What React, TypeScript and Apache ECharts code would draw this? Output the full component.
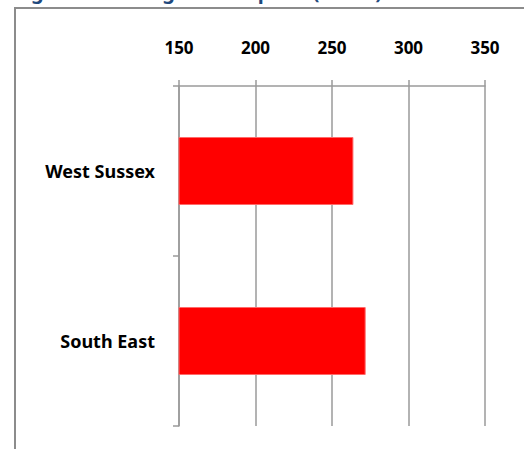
import React, { useEffect, useRef } from "react";
import * as echarts from "echarts";

const categories = ["West Sussex", "South East"];
const values = [264, 272];
const tickMin = 150;
const tickMax = 350;
const tickStep = 50;
const titleText = "Figure 1: Average house price (£000s)";

const FONT = "'Noto Sans', 'DejaVu Sans', sans-serif";

export default function App() {
  const ref = useRef<HTMLDivElement>(null);

  useEffect(() => {
    document.body.style.margin = "0";
    const chart = echarts.init(ref.current!, null, { renderer: "svg" });
    chart.setOption({
      animation: false,
      backgroundColor: "#ffffff",
      graphic: [
        {
          type: "text",
          left: 14,
          top: -19,
          style: {
            text: titleText,
            font: `bold 20px ${FONT}`,
            fill: "#1F497D",
          },
        },
        {
          type: "rect",
          shape: { x: 15, y: 8, width: 600, height: 500 },
          style: { fill: "none", stroke: "#8c8c8c", lineWidth: 2 },
          silent: true,
        },
      ],
      grid: { left: 179, right: 39, top: 86, bottom: 23 },
      xAxis: {
        type: "value",
        position: "top",
        min: tickMin,
        max: tickMax,
        interval: tickStep,
        axisLine: { show: true, lineStyle: { color: "#9a9a9a", width: 1.5 } },
        axisTick: { show: true, inside: false, length: 6, lineStyle: { color: "#9a9a9a", width: 1.5 } },
        splitLine: { show: true, lineStyle: { color: "#9a9a9a", width: 1.5 } },
        axisLabel: {
          margin: 30,
          color: "#000",
          fontFamily: FONT,
          fontWeight: "bold",
          fontSize: 17,
        },
      },
      yAxis: {
        type: "category",
        data: categories,
        inverse: true,
        axisLine: { show: true, lineStyle: { color: "#9a9a9a", width: 1.5 } },
        axisTick: { show: true, length: 6, lineStyle: { color: "#9a9a9a", width: 1.5 } },
        splitLine: { show: false },
        axisLabel: {
          margin: 24,
          color: "#000",
          fontFamily: FONT,
          fontWeight: "bold",
          fontSize: 18,
        },
      },
      series: [
        {
          type: "bar",
          data: values,
          barWidth: "40%",
          itemStyle: { color: "#ff0000", borderColor: "#ff6a6a", borderWidth: 1 },
        },
      ],
    });
    return () => chart.dispose();
  }, []);

  return (
    <div
      ref={ref}
      style={{ position: "absolute", left: 0, top: 0, width: 524, height: 449 }}
    />
  );
}
